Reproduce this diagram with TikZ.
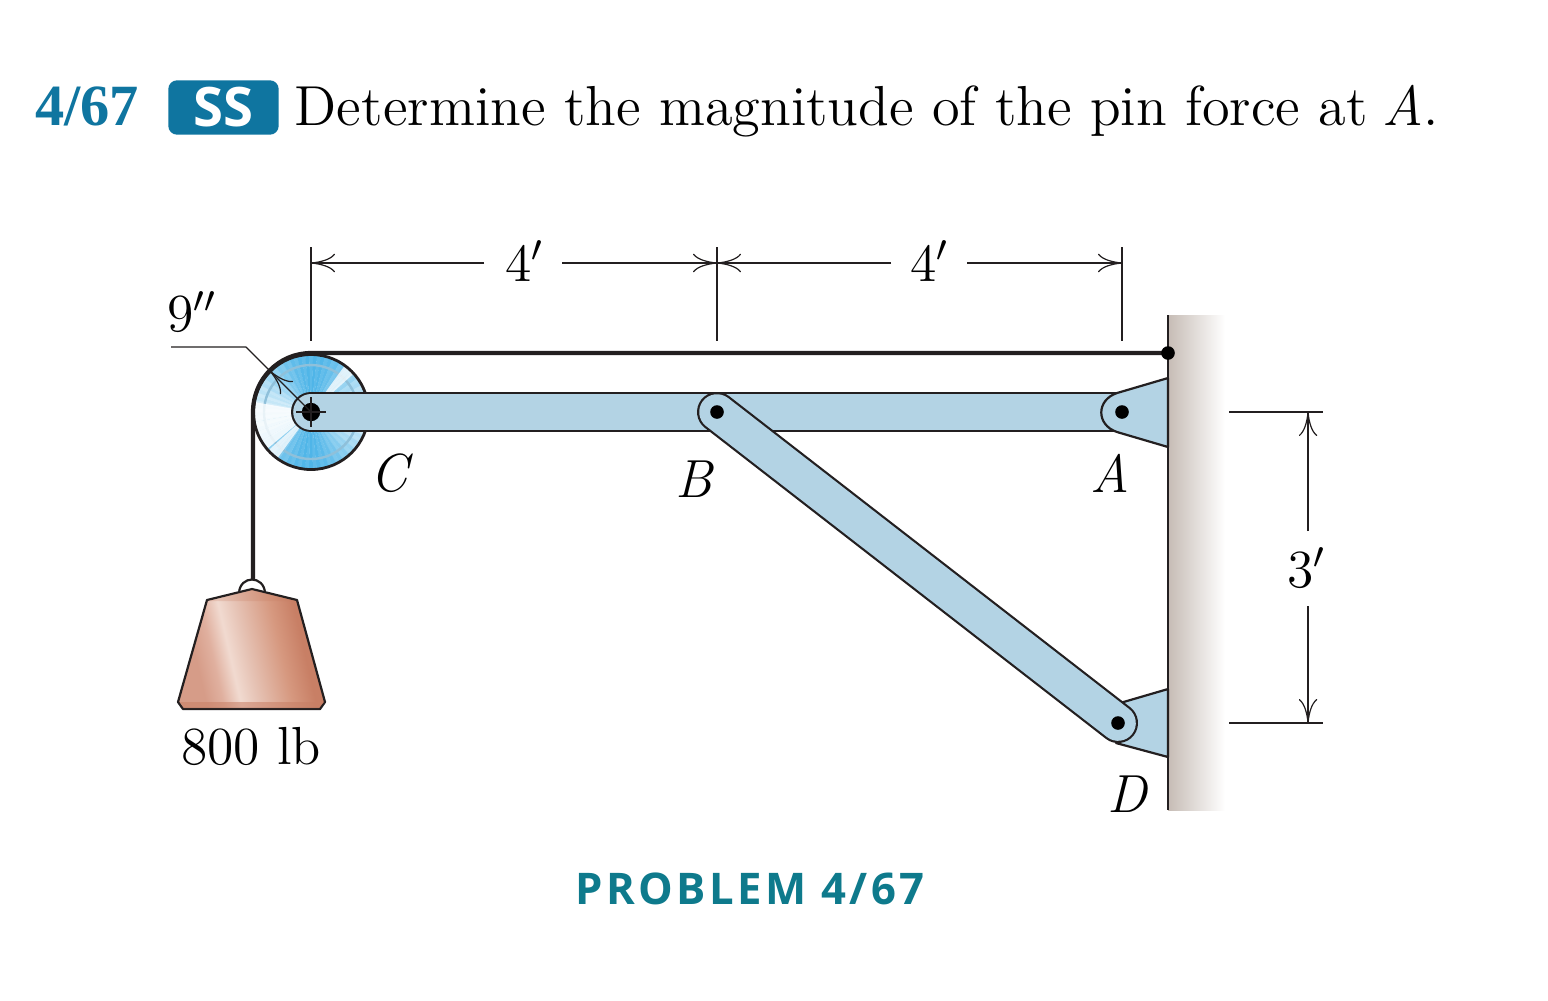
\documentclass[tikz,border=0pt]{standalone}
\usepackage{fix-cm}
\usepackage{fontspec}
\usepackage{amsmath}
\usepackage{tikz}
\usetikzlibrary{arrows.meta}
\newfontfamily\capfont[LetterSpace=8]{Open Sans}
\newfontfamily\ssfont{Open Sans}
\newfontfamily\numfont{Liberation Serif}
\definecolor{inkblue}{HTML}{0F75A0}
\definecolor{capteal}{HTML}{0E7A8C}
\definecolor{linkblue}{HTML}{B3D3E4}
\definecolor{wheelblue}{HTML}{4FB5E8}
\definecolor{ringblue}{HTML}{8FC0DA}
\definecolor{wallgray}{HTML}{C6BCB5}
\definecolor{ink}{HTML}{231F20}
\definecolor{copperA}{HTML}{D69C88}
\definecolor{copperB}{HTML}{E0B09F}
\definecolor{copperC}{HTML}{F1DAD0}
\definecolor{copperD}{HTML}{E6C3B5}
\definecolor{copperF}{HTML}{D6987F}
\definecolor{copperE}{HTML}{C87F65}
\pgfdeclarehorizontalshading{weightshade}{100bp}{color(0bp)=(copperA);color(30bp)=(copperA);color(36bp)=(copperB);color(42bp)=(copperC);color(48bp)=(copperD);color(60bp)=(copperF);color(68bp)=(copperE);color(100bp)=(copperE)}

\begin{document}
\begin{tikzpicture}[x=0.25pt,y=-0.25pt,line join=round]
    \tikzstyle{txt}=[inner sep=0pt,font=\fontsize{13.4}{16}\selectfont]
    \tikzstyle{dim}=[draw=ink,line width=0.3pt]
    \tikzstyle{dim arrow}=[dim,-{Computer Modern Rightarrow[length=6pt,width=4.6pt]}]
    \tikzstyle{bar outline}=[draw=ink,line width=10pt,line cap=round]
    \tikzstyle{bar inner}=[draw=linkblue,line width=8.9pt,line cap=round]
    \tikzstyle{bracket}=[draw=ink,fill=linkblue,line width=0.55pt]
    \tikzstyle{pin}=[circle,fill=black,minimum size=3.4pt,inner sep=0pt]
    \tikzstyle{cable}=[draw=ink,line width=1.05pt]
    \useasboundingbox (0,0) rectangle (1548,1000);
    \fill[white] (0,0) rectangle (1548,1000);

    % Joints and free ends
    \coordinate (C) at (311,412);
    \coordinate (B) at (717,412);
    \coordinate (A) at (1122,412);
    \coordinate (D) at (1118,723);
    \coordinate (rim) at (270,371);
    \coordinate (elbow) at (246,347);
    \coordinate (lead) at (171,347);
    \coordinate (tie) at (1168,353);
    \coordinate (top) at (311,353);
    \coordinate (side) at (253,412);
    \coordinate (hook) at (253,581);

    % Title
    \node[inner sep=0pt,anchor=base,text=inkblue] (num) at (87,125) {\fontsize{14.6}{16}\numfont\bfseries 4/67};
    \node[fill=inkblue,rounded corners=2.2pt,minimum width=27.6pt,minimum height=13.6pt,inner sep=0pt,text=white] (ss) at (223.5,107.5) {\fontsize{13.6}{16}\ssfont\bfseries SS};
    \node[txt,anchor=base west,font=\fontsize{14.1}{16}\selectfont] (title) at (294,125) {Determine the magnitude of the pin force at\kern-1pt\ \textit{A}.};

    % Wall
    \shade[left color=wallgray,right color=white] (1168,315) rectangle (1225,810);

    % Pulley
    \foreach \a in {0,4,...,356}{
        \pgfmathsetmacro{\v}{30+70*abs(sin(\a))^2-8*mod(\a/4,2)}
        \fill[wheelblue!\v!white] (C) -- +(\a:57) -- +(\a+4.4:57) -- cycle;
    }
    \draw[ringblue,line width=0.6pt] (C) circle (47);
    \foreach \a in {126,130,134,306,310,314}{
        \fill[white,opacity=0.75] (C) -- +(\a:57) -- +(\a+4:57) -- cycle;
    }
    \foreach \a in {140,150,...,180}{
        \fill[white,opacity=0.8] (C) -- +(\a:57) -- +(\a+10:57) -- cycle;
    }
    \draw[line width=0.7pt,draw=ink] (C) circle (57.5);

    % Links
    \draw[bar outline] (C) -- (A);
    \draw[bar inner] (C) -- (A);
    \draw[bracket] (1168,378) -- (1117,393) .. controls (1096,400) and (1096,425) .. (1117,432) -- (1168,447) -- cycle;
    \draw[bracket] (1168,689) -- (1120,703) -- (1116,743) -- (1168,757) -- cycle;
    \draw[bar outline] (B) -- (D);
    \draw[bar inner] (B) -- (D);
    \draw[line width=0.55pt,draw=ink] (1168,315) -- (1168,810);

    % Cable
    \draw[cable] (tie) -- (top) .. controls (279,353) and (253,379) .. (side) -- (hook);

    % Pins
    \node[pin,minimum size=4.6pt] (pin-C) at (C) {};
    \node[pin] (pin-B) at (B) {};
    \node[pin] (pin-A) at (A) {};
    \node[pin] (pin-D) at (D) {};
    \node[pin] (pin-T) at (tie) {};
    \draw[dim] (296,412) -- (326,412);
    \draw[dim] (311,397) -- (311,427);

    % Weight
    \draw[draw=ink,fill=white,line width=0.55pt] (239,593) .. controls (240,575) and (264,575) .. (265,593);
    \draw[draw=ink,shading=weightshade,shading angle=13,line width=0.55pt] (252,589) -- (297,600) -- (325,702) -- (320,709) -- (183,709) -- (178,702) -- (207,600) -- cycle;
    \fill[color=copperE,opacity=0.55] (180,702) -- (324,702) -- (319,708) -- (184,708) -- cycle;
    \fill[color=copperE,opacity=0.25] (252,590) -- (296,601) -- (208,601) -- cycle;
    \node[txt] (load) at (251,746) {800 lb};

    % Dimensions
    \draw[dim] (311,247) -- (311,341);
    \draw[dim] (717,247) -- (717,341);
    \draw[dim] (1122,247) -- (1122,341);
    \node[txt] (dim-1) at (525,261) {4$'$};
    \node[txt] (dim-2) at (930,261) {4$'$};
    \draw[dim arrow] (484,263) -- (311,263);
    \draw[dim arrow] (562,263) -- (717,263);
    \draw[dim arrow] (891,263) -- (717,263);
    \draw[dim arrow] (967,263) -- (1122,263);
    \draw[dim] (1229,412) -- (1323,412);
    \draw[dim] (1229,723) -- (1323,723);
    \node[txt] (dim-3) at (1307,568) {3$'$};
    \draw[dim arrow] (1308,531) -- (1308,412);
    \draw[dim arrow] (1308,606) -- (1308,723);
    \node[txt] (dim-9) at (192,312) {9$''$};
    \draw[dim] (lead) -- (elbow) -- (rim);
    \draw[dim arrow] (C) -- (rim);

    % Annotate the joints
    \node[txt] (lab-C) at (392,473) {\textit{C}};
    \node[txt] (lab-B) at (695,479) {\textit{B}};
    \node[txt] (lab-A) at (1110,473) {\textit{A}};
    \node[txt] (lab-D) at (1128,794) {\textit{D}};
    \node[inner sep=0pt,text=capteal] (cap) at (750,889) {\fontsize{10.9}{13}\capfont\bfseries PROBLEM 4/67};
\end{tikzpicture}
\end{document}
